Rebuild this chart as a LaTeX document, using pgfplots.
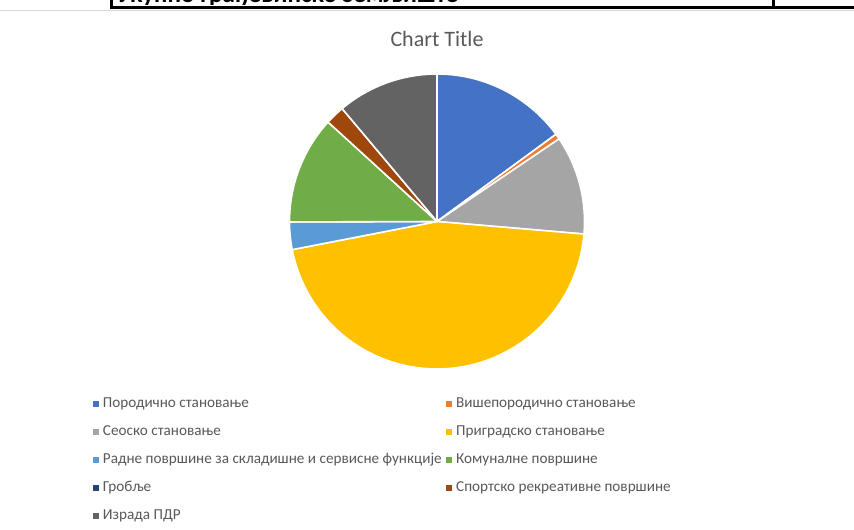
\documentclass[border=0pt]{standalone}
\usepackage{fontspec}
\setmainfont{Carlito}
\usepackage{pgfplots}
\pgfplotsset{compat=1.18}

\definecolor{c1}{HTML}{4472C4}
\definecolor{c2}{HTML}{ED7D31}
\definecolor{c3}{HTML}{A5A5A5}
\definecolor{c4}{HTML}{FFC000}
\definecolor{c5}{HTML}{5B9BD5}
\definecolor{c6}{HTML}{70AD47}
\definecolor{c7}{HTML}{264478}
\definecolor{c8}{HTML}{9E480E}
\definecolor{c9}{HTML}{636363}
\definecolor{txtgray}{HTML}{595959}

% share values (percent)
\newcommand\total{99.8}
\newcommand\R{147.5}
\gdef\cum{0}
\newcommand\pieslice[2]{%
  \pgfmathsetmacro\sa{\cum/\total*360}%
  \pgfmathsetmacro\ea{(\cum+#1)/\total*360}%
  \edef\doslice{\noexpand\addplot[fill=#2, draw=white, line width=1.6pt, line join=round,
     domain=\sa:\ea, samples=90, variable=\noexpand\t, forget plot]
     ({\R*sin(\noexpand\t)},{\R*cos(\noexpand\t)}) -- (axis cs:0,0) -- cycle;}%
  \doslice
  \pgfmathsetmacro\newcum{\cum+#1}\global\let\cum\newcum
}

\begin{document}
\begin{tikzpicture}
\useasboundingbox (0pt,0pt) rectangle (854pt,530pt);
\fill[white] (0pt,0pt) rectangle (854pt,530pt);
% remnant of the table above the chart
\node[anchor=base west, inner sep=0pt, font=\bfseries\fontsize{25}{25}\selectfont] at (117pt,527.8pt) {Укупно грађевинско земљиште};
\fill[white] (0pt,524pt) rectangle (854pt,525pt);
\draw[line width=2.6pt] (110pt,522.3pt) -- (854pt,522.3pt);
\draw[line width=2.6pt] (111.5pt,531pt) -- (111.5pt,522.3pt);
\draw[line width=2.6pt] (773.5pt,531pt) -- (773.5pt,522.3pt);
\draw[black!15, line width=1pt] (0pt,519pt) -- (854pt,519pt);

\begin{axis}[
  at={(437pt,308.5pt)}, anchor=center,
  x=1pt, y=1pt, xmin=-150, xmax=150, ymin=-150, ymax=150,
  hide axis, clip=false,
  title={Chart Title},
  title style={at={(axis description cs:0.5,1.088)}, anchor=center,
    font=\fontsize{22}{22}\selectfont, text=txtgray},
  legend columns=2,
  legend cell align=left,
  legend style={at={(axis description cs:-0.6467,-0.0883)}, anchor=north west,
    draw=none, fill=none, inner sep=0pt, outer sep=0pt,
    font=\fontsize{15.2}{15.2}\selectfont, text=txtgray,
    row sep=14.5pt,
    nodes={inner sep=0pt, text height=10pt, text depth=3.5pt},
    /tikz/every odd column/.append style={column sep=4pt},
    /tikz/every even column/.append style={column sep=4.5pt}},
  legend image code/.code={\fill[#1] (0pt,-1.8pt) rectangle (6pt,4.2pt);},
]
\pieslice{14.9}{c1}
\pieslice{0.6}{c2}
\pieslice{10.8}{c3}
\pieslice{45.5}{c4}
\pieslice{3.0}{c5}
\pieslice{11.8}{c6}
% Гробље: 0 (not visible)
\pieslice{2.1}{c8}
\pieslice{11.1}{c9}

\addlegendimage{fill=c1, draw=none}\addlegendentry{Породично становање}
\addlegendimage{fill=c2, draw=none}\addlegendentry{Вишепородично становање}
\addlegendimage{fill=c3, draw=none}\addlegendentry{Сеоско становање}
\addlegendimage{fill=c4, draw=none}\addlegendentry{Приградско становање}
\addlegendimage{fill=c5, draw=none}\addlegendentry{Радне површине за складишне и сервисне функције}
\addlegendimage{fill=c6, draw=none}\addlegendentry{Комуналне површине}
\addlegendimage{fill=c7, draw=none}\addlegendentry{Гробље}
\addlegendimage{fill=c8, draw=none}\addlegendentry{Спортско рекреативне површине}
\addlegendimage{fill=c9, draw=none}\addlegendentry{Израда ПДР}
\end{axis}
\end{tikzpicture}
\end{document}
